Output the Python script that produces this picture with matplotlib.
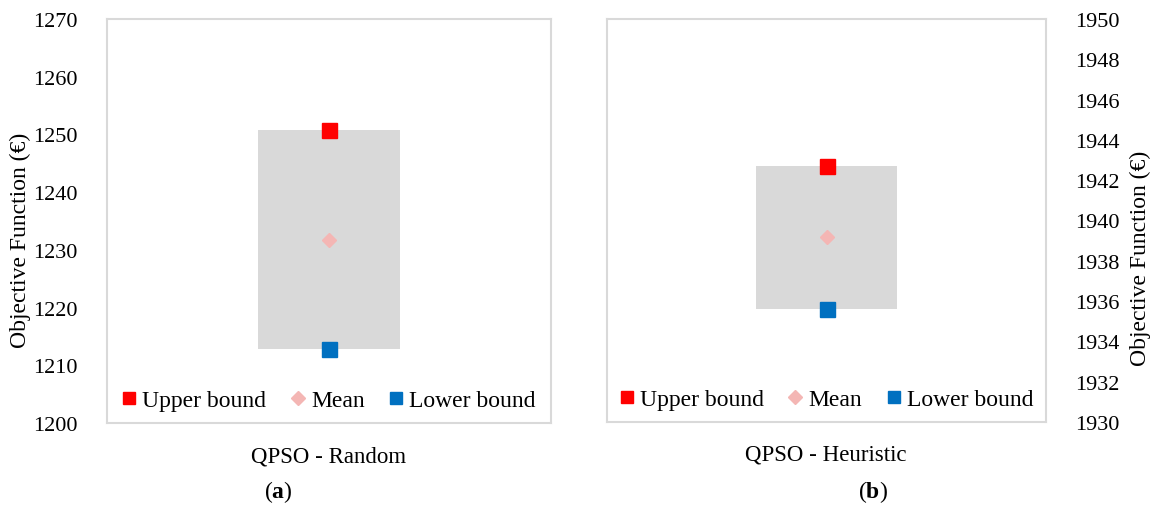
import matplotlib
matplotlib.use("Agg")
import matplotlib.pyplot as plt
from matplotlib.lines import Line2D

plt.rcParams['font.family'] = ['Liberation Serif', 'DejaVu Serif']
plt.rcParams['mathtext.fontset'] = 'custom'
plt.rcParams['mathtext.rm'] = 'Liberation Serif'
plt.rcParams['mathtext.bf'] = 'Liberation Serif:bold'

# Objective function statistics for each QPSO variant
categories = ["QPSO - Random", "QPSO - Heuristic"]
upper_bound = [1250.8, 1942.7]
mean_value = [1231.7, 1939.2]
lower_bound = [1212.8, 1935.6]
y_ranges = [(1200, 1270), (1930, 1950)]
y_steps = [10, 2]
panel_tags = ["a", "b"]

RED = "#FF0000"
BLUE = "#0070C0"
PINK = "#F4B6B4"
GREY = "#D9D9D9"
FS_TICK = 16
FS_TEXT = 17

fig = plt.figure(figsize=(11.56, 5.06), dpi=100)
W, H = 1156, 506

def px_axes(x0, y0, x1, y1):
    return fig.add_axes([x0 / W, 1 - y1 / H, (x1 - x0) / W, (y1 - y0) / H])

axes = [px_axes(107, 20, 551, 424), px_axes(607, 20, 1046, 423)]

for i, ax in enumerate(axes):
    lo, hi = y_ranges[i]
    ax.bar([0], [upper_bound[i] - lower_bound[i]], bottom=[lower_bound[i]],
           width=0.32, color=GREY, zorder=1)
    ax.plot([0], [upper_bound[i]], marker='s', markersize=10.8, color=RED,
            linestyle='none', zorder=3)
    ax.plot([0], [mean_value[i]], marker='D', markersize=7.6, color=PINK,
            linestyle='none', zorder=3)
    ax.plot([0], [lower_bound[i]], marker='s', markersize=10.8, color=BLUE,
            linestyle='none', zorder=3)
    ax.set_xlim(-0.5, 0.5)
    ax.set_ylim(lo, hi)
    ticks = list(range(lo, hi + 1, y_steps[i]))
    ax.set_yticks(ticks)
    ax.set_yticklabels([str(t) for t in ticks], fontsize=FS_TICK)
    ax.set_xticks([])
    ax.tick_params(axis='y', length=0, pad=21)
    for s in ax.spines.values():
        s.set_color(GREY)
        s.set_linewidth(1.5)

    handles = [
        Line2D([], [], marker='s', color=RED, linestyle='none', markersize=9),
        Line2D([], [], marker='D', color=PINK, linestyle='none', markersize=7),
        Line2D([], [], marker='s', color=BLUE, linestyle='none', markersize=9),
    ]
    ax.legend(handles, ["Upper bound", "Mean", "Lower bound"], ncol=3,
              loc='lower center', bbox_to_anchor=(0.5, 0.0), frameon=False,
              fontsize=FS_TEXT, handlelength=0.6, handletextpad=0.25,
              columnspacing=1.05, borderaxespad=0.1)

axes[1].yaxis.tick_right()

fig.text(20 / W, 1 - 240 / H, "Objective Function (€)", rotation=90,
         ha='center', va='center', fontsize=FS_TEXT)
fig.text(1140 / W, 1 - 258 / H, "Objective Function (€)", rotation=90,
         ha='center', va='center', fontsize=FS_TEXT)

fig.text(329 / W, 1 - 457 / H, categories[0], ha='center', va='center', fontsize=16.5)
fig.text(826 / W, 1 - 455 / H, categories[1], ha='center', va='center', fontsize=16.5)
fig.text(278 / W, 1 - 492 / H, "(" + r"$\mathbf{" + panel_tags[0] + "}$" + ")",
         ha='center', va='center', fontsize=FS_TEXT)
fig.text(873 / W, 1 - 492 / H, "(" + r"$\mathbf{" + panel_tags[1] + "}$" + ")",
         ha='center', va='center', fontsize=FS_TEXT)

fig.savefig("out.png", dpi=100)
